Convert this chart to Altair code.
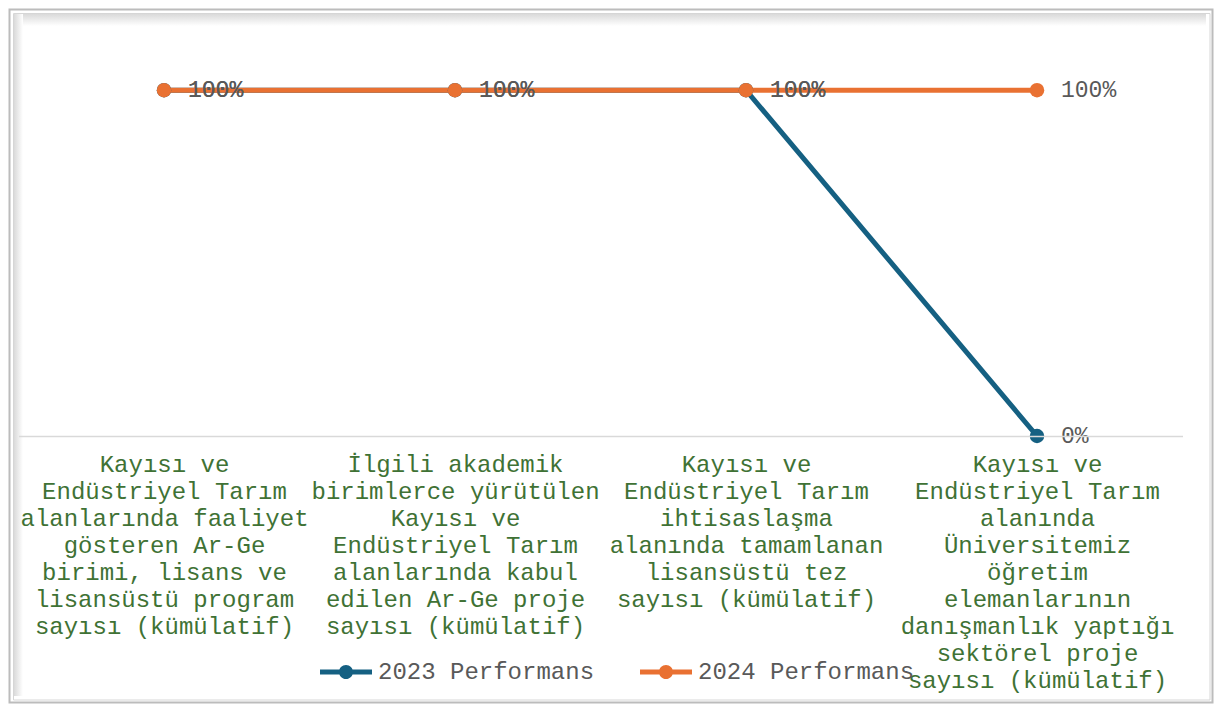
import altair as alt
import pandas as pd

categories = [
    "Kayısı ve|Endüstriyel Tarım|alanlarında faaliyet|gösteren Ar-Ge|birimi, lisans ve|lisansüstü program|sayısı (kümülatif)",
    "İlgili akademik|birimlerce yürütülen|Kayısı ve|Endüstriyel Tarım|alanlarında kabul|edilen Ar-Ge proje|sayısı (kümülatif)",
    "Kayısı ve|Endüstriyel Tarım|ihtisaslaşma|alanında tamamlanan|lisansüstü tez|sayısı (kümülatif)",
    "Kayısı ve|Endüstriyel Tarım|alanında|Üniversitemiz|öğretim|elemanlarının|danışmanlık yaptığı|sektörel proje|sayısı (kümülatif)",
]
series_names = ["2023 Performans", "2024 Performans"]
values_2023 = [1.0, 1.0, 1.0, 0.0]
values_2024 = [1.0, 1.0, 1.0, 1.0]
series_colors = ["#156082", "#E97132"]

rows = []
for s, vals in zip(series_names, [values_2023, values_2024]):
    for c, v in zip(categories, vals):
        rows.append({"category": c, "series": s, "value": v})
df = pd.DataFrame(rows)

W, H = 1164, 415
PAD_L, PAD_T = 10.5, 13
TOTAL_W, TOTAL_H = 1206, 696
PAD_R = TOTAL_W - PAD_L - W
PAD_B = TOTAL_H - PAD_T - H

FONT = "Liberation Mono"
AXIS_GREEN = "#3f7235"
LABEL_GRAY = "#595959"

x_enc = alt.X(
    "category:N",
    scale=alt.Scale(type="point", padding=0.5, domain=categories),
    axis=alt.Axis(
        title=None,
        labelAngle=0,
        labelExpr="split(datum.label, '|')",
        labelFont=FONT,
        labelFontSize=24,
        labelColor=AXIS_GREEN,
        labelLineHeight=27,
        labelPadding=16,
        labelLimit=600,
        labelOverlap=False,
        labelBaseline="top",
        labelAlign="center",
        ticks=False,
        domainColor="#d9d9d9",
        domainWidth=1.5,
        grid=False,
        zindex=1,
    ),
)
y_enc = alt.Y("value:Q", scale=alt.Scale(domain=[0, 1.2], nice=False, zero=True), axis=None)

LEGEND_PATH = (
    "M-1,-0.1 L1,-0.1 L1,0.1 L-1,0.1 Z "
    "M0.27,0 A0.27,0.27 0 1,1 -0.27,0 A0.27,0.27 0 1,1 0.27,0 Z"
)
legend = alt.Legend(
    title=None,
    orient="none",
    legendX=301.5,
    legendY=625,
    direction="horizontal",
    symbolType=LEGEND_PATH,
    symbolSize=2704,
    symbolStrokeWidth=0,
    symbolOpacity=1,
    labelFont=FONT,
    labelFontSize=24,
    labelColor=LABEL_GRAY,
    labelOffset=6,
    labelLimit=500,
    columnPadding=45,
    zindex=2,
)
color_scale = alt.Scale(domain=series_names, range=series_colors)
color_enc = alt.Color("series:N", scale=color_scale, legend=legend)

base = alt.Chart(df)

line = base.mark_line(strokeWidth=5).encode(x=x_enc, y=y_enc, color=color_enc)
points = base.mark_point(filled=True, size=210, opacity=1).encode(x=x_enc, y=y_enc, color=color_enc)
labels = base.mark_text(
    align="left", baseline="middle", dx=24, font=FONT, fontSize=23, color=LABEL_GRAY
).encode(x=x_enc, y=y_enc, text=alt.Text("value:Q", format=".0%"))

# chart-area frame (decoration)
frame_df = pd.DataFrame({"k": [0]})
fx0, fx1 = -PAD_L, TOTAL_W - PAD_L
fy0, fy1 = -PAD_T, TOTAL_H - PAD_T
frame_outer = alt.Chart(frame_df).mark_rect(
    fill="transparent", stroke="#bcbcbc", strokeWidth=2
).encode(
    x=alt.value(fx0 + 1.5), x2=alt.value(fx1 - 1.5), y=alt.value(fy0 + 1.5), y2=alt.value(fy1 - 1.5)
)
frame_inner = alt.Chart(frame_df).mark_rect(
    fill="transparent", stroke="#d6d6d6", strokeWidth=1
).encode(
    x=alt.value(fx0 + 5.5), x2=alt.value(fx1 - 4), y=alt.value(fy0 + 5.5), y2=alt.value(fy1 - 4)
)
top_shadow = alt.Chart(frame_df).mark_rect(
    fill={
        "gradient": "linear", "x1": 0, "y1": 0, "x2": 0, "y2": 1,
        "stops": [{"offset": 0, "color": "#dadada"}, {"offset": 1, "color": "#ffffff"}],
    }
).encode(x=alt.value(fx0 + 6), x2=alt.value(fx1 - 8), y=alt.value(fy0 + 6), y2=alt.value(fy0 + 18))
left_shadow = alt.Chart(frame_df).mark_rect(
    fill={
        "gradient": "linear", "x1": 0, "y1": 0, "x2": 1, "y2": 0,
        "stops": [{"offset": 0, "color": "#dadada"}, {"offset": 1, "color": "#ffffff"}],
    }
).encode(x=alt.value(fx0 + 6), x2=alt.value(fx0 + 15), y=alt.value(fy0 + 6), y2=alt.value(fy1 - 8))

chart = alt.layer(
    top_shadow, left_shadow, frame_inner, frame_outer, line, points, labels
).properties(
    width=W,
    height=H,
    autosize=alt.AutoSizeParams(type="none"),
    padding={"left": PAD_L, "top": PAD_T, "right": PAD_R, "bottom": PAD_B},
    background="white",
).configure_view(strokeWidth=0)

chart.save("out.html", embed_options={"renderer": "svg", "actions": False})
